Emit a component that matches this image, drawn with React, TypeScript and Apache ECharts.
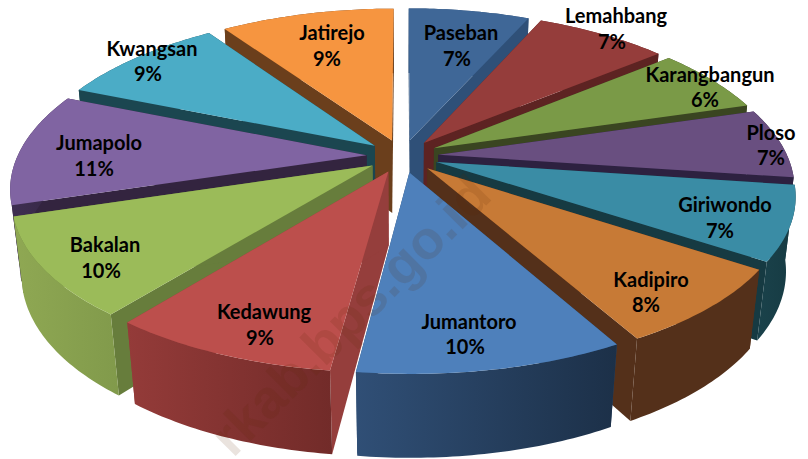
import React, { useEffect, useRef } from "react";
import * as echarts from "echarts";

// Data
const names = ["Paseban", "Lemahbang", "Karangbangun", "Ploso", "Giriwondo", "Kadipiro", "Jumantoro", "Kedawung", "Bakalan", "Jumapolo", "Kwangsan", "Jatirejo"];
const shares = [6.7, 7.3, 6.4, 6.8, 7.2, 7.6, 10, 8.6, 9.6, 11, 9.2, 9.6];
const pctLabels = ["7%", "7%", "6%", "7%", "7%", "8%", "10%", "9%", "10%", "11%", "9%", "9%"];

// Styling
const topColors = ["#3f6797", "#953d3b", "#7a9a47", "#694f80", "#3a8ca5", "#c77a36", "#4e80bb", "#bc4f4c", "#9bbb59", "#8064a2", "#4bacc6", "#f69540"];
const edgeColors = ["#2f5078", "#5d2322", "#3a4521", "#2d2140", "#163a42", "#54301a", "#2b4a70", "#953e3c", "#677d3c", "#33243f", "#1b4650", "#6b3f1c"];
const wallFrom = ["#2f5078", "#5d2322", "#3a4521", "#2d2140", "#1a424b", "#54301a", "#304f76", "#943b39", "#8fa853", "#3f2f52", "#1b4650", "#6b3f1c"];
const wallTo = ["#2f5078", "#5d2322", "#3a4521", "#2d2140", "#163a42", "#54301a", "#1c3048", "#722b29", "#819a4b", "#33243f", "#1b4650", "#6b3f1c"];

// Label layout: centre of the name line and of the percent line
const labelLayout = [
  [461, 32, 457, 58], [616, 15, 612, 41], [710, 74, 705, 99], [771, 132, 771, 157],
  [725, 204, 720, 230], [651, 279, 646, 304], [469, 321, 465, 346], [264, 311, 260, 337],
  [105, 244, 101, 270], [99, 142, 94, 168], [152, 48, 148, 73], [332, 32, 327, 58],
];

// Projection of the 3D pie
const CX = 402.5, CY = 156, R = 349, EXPLODE = 36;
const FORE = 0.458, PERSP = 0.0005, PERSP_X = 0.00054, DEPTH_SCALE = 0.024, DEPTH = 75;
const project = (x: number, y: number, d: number) => {
  const den = 1 + PERSP * y + DEPTH_SCALE * d;
  const denX = 1 + PERSP_X * y + DEPTH_SCALE * d;
  return [CX + x / denX, CY + (-FORE * y + DEPTH * d) / den];
};

const total = shares.reduce((a, b) => a + b, 0);
const TAU = Math.PI * 2;
const slices = names.map((name, i) => {
  const before = shares.slice(0, i).reduce((a, b) => a + b, 0);
  const a0 = (before / total) * TAU;
  const a1 = ((before + shares[i]) / total) * TAU;
  const mid = (a0 + a1) / 2;
  return { i, name, a0, a1, ox: EXPLODE * Math.sin(mid), oy: EXPLODE * Math.cos(mid) };
});
const drawOrder = [...slices].sort((p, q) => q.oy - p.oy);

function arc(s: typeof slices[number], d: number) {
  const pts: number[][] = [];
  const n = Math.max(6, Math.ceil((s.a1 - s.a0) / 0.015));
  for (let k = 0; k <= n; k++) {
    const a = s.a0 + ((s.a1 - s.a0) * k) / n;
    pts.push(project(s.ox + R * Math.sin(a), s.oy + R * Math.cos(a), d));
  }
  return pts;
}

function renderSlice(_: any, api: any) {
  const s = drawOrder[api.value(0)];
  const tip = project(s.ox, s.oy, 0);
  const tipB = project(s.ox, s.oy, 1);
  const top = arc(s, 0);
  const bottom = arc(s, 1);
  const edge = edgeColors[s.i];
  const poly = (points: number[][], fill: any) => ({
    type: "polygon",
    shape: { points },
    style: { fill, stroke: null },
  });
  const grad = new echarts.graphic.LinearGradient(0, 0, 1, 0, [
    { offset: 0, color: wallFrom[s.i] },
    { offset: 1, color: wallTo[s.i] },
  ]);
  return {
    type: "group",
    children: [
      poly([tip, top[0], bottom[0], tipB], edge),
      poly([tip, top[top.length - 1], bottom[bottom.length - 1], tipB], edge),
      poly([...top, ...[...bottom].reverse()], grad),
      poly([tip, ...top], topColors[s.i]),
    ],
  };
}

function renderLabel(_: any, api: any) {
  const i = api.value(0);
  const [x1, y1, x2, y2] = labelLayout[i];
  const text = (t: string, x: number, y: number) => ({
    type: "text",
    style: { text: t, x, y, fill: "#000", font: "700 20px Lato", align: "center", verticalAlign: "middle" },
  });
  return { type: "group", children: [text(names[i], x1, y1), text(pctLabels[i], x2, y2)] };
}

export default function App() {
  const ref = useRef<HTMLDivElement>(null);
  useEffect(() => {
    document.body.style.margin = "0";
    document.body.style.overflow = "hidden";
    const chart = echarts.init(ref.current!, null, { renderer: "svg" });
    chart.setOption({
      animation: false,
      backgroundColor: "#ffffff",
      graphic: [
        {
          type: "text",
          z: 100,
          x: 350,
          y: 315,
          rotation: Math.PI / 4,
          style: {
            text: "rkab.bps.go.id",
            fill: "rgba(90,35,0,0.13)",
            font: "700 54px 'Liberation Sans'",
            align: "center",
            verticalAlign: "middle",
          },
        },
      ],
      series: [
        { type: "custom", coordinateSystem: "none", z: 2, silent: true, renderItem: renderSlice, data: drawOrder.map((_, k) => [k]) },
        { type: "custom", coordinateSystem: "none", z: 3, silent: true, renderItem: renderLabel, data: names.map((_, k) => [k]) },
      ],
    });
    return () => chart.dispose();
  }, []);
  return <div ref={ref} style={{ position: "fixed", left: 0, top: 0, width: 808, height: 459 }} />;
}
